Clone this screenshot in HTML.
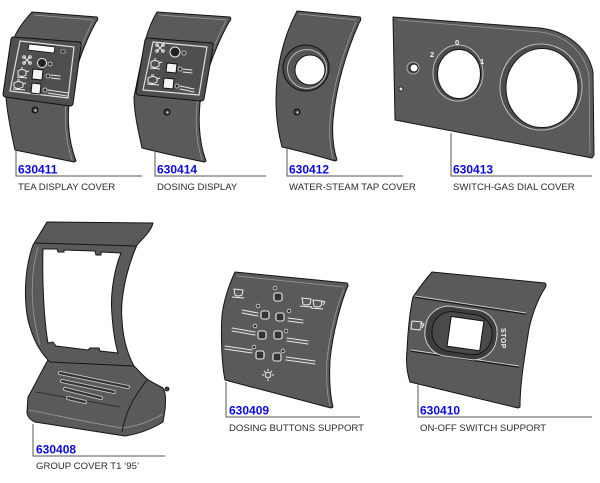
<!DOCTYPE html>
<html><head><meta charset="utf-8"><style>
html,body{margin:0;padding:0;background:#fff;}
svg{display:block;}
.num{font-family:"Liberation Sans",sans-serif;font-weight:bold;font-size:12px;fill:#0a0ae0;}
.dsc{font-family:"Liberation Sans",sans-serif;font-size:9.6px;fill:#2a2a2a;}
.ln{stroke:#555;stroke-width:1;fill:none;}
.body{fill:#5a5a5a;stroke:#151515;stroke-width:1;stroke-linejoin:round;}
.hl{stroke:#9a9a9a;stroke-width:0.8;fill:none;}
.wl{stroke:#e6e6e6;stroke-width:1;fill:none;stroke-linecap:round;}
.hole{fill:#fff;stroke:#151515;stroke-width:1;}
.btn{fill:#333;stroke:#eee;stroke-width:1.1;}
.dot{fill:#2a2a2a;stroke:#ddd;stroke-width:0.8;}
</style></head><body>
<svg width="600" height="483" viewBox="0 0 600 483" xmlns="http://www.w3.org/2000/svg">

<!-- ===== Shape 1: TEA DISPLAY COVER ===== -->
<path class="body" d="M32,12 L97,17 Q99,19 96,22 C86,40 73,72 69,103 C67,125 70,145 76,161 L74,162 C55,158 35,154 15,150 C11,132 7,112 6,97 L14,38 C18,28 25,20 32,12 Z"/>
<path class="hl" d="M34,15 L94,20 M93,21 C83,40 70,72 66,103 C64,125 67,145 72,160"/>
<path d="M13,37 L80,42 Q82,43 81,46 L73,104 Q72,106 70,106 L5,97 Q3,96 3,94 L11,39 Q12,37 13,37 Z" fill="#4f4f4f" stroke="#111" stroke-width="1"/>
<path d="M20,41 L74,47 L68,98 L10,91 Z" fill="none" stroke="#dedede" stroke-width="1.2" stroke-linejoin="round"/>
<polygon points="29,44 55,47 54,53 28,50" fill="#fff" stroke="#111" stroke-width="0.8"/>
<rect x="61" y="50" width="4" height="3" fill="#222" stroke="#ddd" stroke-width="0.6"/>
<g stroke="#eee" stroke-width="1" fill="none">
  <path d="M24,57 l6,6 M30,57 l-6,6"/><circle cx="24" cy="57" r="1.3"/><circle cx="30" cy="57" r="1.3"/><circle cx="24" cy="63" r="1.3"/><circle cx="30" cy="63" r="1.3"/>
  <path d="M18,71 q4,-3 8,0 l0,4 q-4,3 -8,0 z M21,68 l2,0 M26,72 l3,-1 M17,77 l10,1"/>
  <path d="M14,83 q5,-3 9,0 l0,4 q-5,3 -9,0 z M17,80 l3,0 M23,84 l3,-1 M13,89 l12,1"/>
</g>
<circle cx="42" cy="63" r="4.5" fill="#222" stroke="#eee" stroke-width="1"/>
<circle class="dot" cx="50" cy="64" r="2"/>
<polygon points="33,69 43,70 42,80 32,79" fill="#f4f4f4" stroke="#111" stroke-width="1"/>
<circle class="dot" cx="48" cy="76" r="2"/>
<path class="wl" d="M51,75 L60,76 M51,78 L60,79"/>
<polygon points="32,83 41,84 40,94 31,93" fill="#f4f4f4" stroke="#111" stroke-width="1"/>
<circle class="dot" cx="45" cy="90" r="2"/>
<path class="wl" d="M48,90 L68,93 M48,93 L67,96"/>
<circle cx="35" cy="110" r="3" fill="#3a3a3a" stroke="#111"/><circle cx="35.5" cy="110.5" r="1.2" fill="#ccc"/>

<!-- ===== Shape 2: DOSING DISPLAY ===== -->
<path class="body" d="M157,12 L230,17 Q232,19 229,22 C219,40 205,72 200,103 C198,125 200,145 206,161 L204,162 C185,158 162,153 142,148 C138,130 134,112 134,97 L146,38 C149,28 152,20 157,12 Z"/>
<path class="hl" d="M159,15 L227,20 M226,21 C216,40 202,72 197,103 C195,125 197,145 202,160"/>
<path d="M147,38 L212,43 Q214,44 213,47 L204,99 Q203,101 201,101 L138,95 Q136,94 136,92 L145,40 Q146,38 147,38 Z" fill="#4f4f4f" stroke="#111" stroke-width="1"/>
<path d="M153,42 L207,47 L199,95 L143,90 Z" fill="none" stroke="#dedede" stroke-width="1.2" stroke-linejoin="round"/>
<g stroke="#eee" stroke-width="1" fill="none">
  <path d="M157,45 l6,6 M163,45 l-6,6"/><circle cx="157" cy="45" r="1.3"/><circle cx="163" cy="45" r="1.3"/><circle cx="157" cy="51" r="1.3"/><circle cx="163" cy="51" r="1.3"/>
  <path d="M151,62 q4,-3 8,0 l0,4 q-4,3 -8,0 z M154,59 l2,0 M159,63 l3,-1 M150,68 l10,1"/>
  <path d="M148,78 q5,-3 9,0 l0,4 q-5,3 -9,0 z M151,75 l3,0 M157,79 l3,-1 M147,84 l12,1"/>
</g>
<circle cx="175" cy="52" r="5" fill="#222" stroke="#eee" stroke-width="1"/>
<circle class="dot" cx="184" cy="53" r="2"/>
<polygon points="167,63 177,64 176,73 166,72" fill="#f4f4f4" stroke="#111" stroke-width="1"/>
<circle class="dot" cx="180" cy="69" r="2"/>
<path class="wl" d="M183,69 L192,70 M183,72 L192,73"/>
<polygon points="164,78 174,79 173,89 163,88" fill="#f4f4f4" stroke="#111" stroke-width="1"/>
<circle class="dot" cx="177" cy="86" r="2"/>
<path class="wl" d="M180,86 L194,89 M180,89 L194,92"/>
<circle cx="167" cy="112" r="3" fill="#3a3a3a" stroke="#111"/><circle cx="167.5" cy="112.5" r="1.2" fill="#ccc"/>

<!-- ===== Shape 3: WATER-STEAM TAP COVER ===== -->
<path class="body" d="M297,11 L360,17 Q362,19 359,23 C347,50 336,85 333,120 C332,135 333,148 337,160 L335,161 C318,156 300,151 282,147 C278,132 276,118 276,100 C276,62 286,32 297,11 Z"/>
<path class="hl" d="M299,14 L357,20 M356,22 C344,50 333,85 330,120 C329,135 330,148 333,159"/>
<circle cx="306" cy="68" r="23" fill="#4c4c4c" stroke="#111" stroke-width="1"/>
<circle cx="307" cy="69" r="19.5" fill="#555" stroke="#bdbdbd" stroke-width="1"/>
<circle cx="310" cy="70" r="15" class="hole"/>
<circle cx="297" cy="112" r="3" fill="#3a3a3a" stroke="#111"/><circle cx="297.5" cy="112.5" r="1.2" fill="#ccc"/>

<!-- ===== Shape 4: SWITCH-GAS DIAL COVER ===== -->
<path class="body" d="M393,17 L540,28 C566,31 588,47 593,72 L594,155 L592,158 L395,120 L393,17 Z"/>
<path class="hl" d="M398,20 L540,32 C564,35 584,50 589,76 L590,153"/>
<ellipse cx="458" cy="73" rx="25" ry="28" fill="#4c4c4c" stroke="#bdbdbd" stroke-width="1"/>
<ellipse cx="459" cy="74" rx="21.5" ry="24.5" class="hole"/>
<ellipse cx="541" cy="87" rx="41" ry="43" fill="#4c4c4c" stroke="#bdbdbd" stroke-width="1"/>
<ellipse cx="542" cy="88" rx="36" ry="39.5" class="hole"/>
<circle cx="413" cy="68" r="6" fill="#4c4c4c" stroke="#aaa" stroke-width="1"/>
<circle cx="414" cy="68" r="4" class="hole"/>
<circle cx="401" cy="89" r="2" fill="#ddd" stroke="#111" stroke-width="0.8"/>
<g font-family="Liberation Sans, sans-serif" font-weight="bold" font-size="7.5" fill="#f4f4f4">
<text x="430" y="57">2</text><text x="455" y="45">0</text><text x="480" y="64">1</text>
</g>

<!-- ===== Shape 5: GROUP COVER ===== -->
<path class="body" d="M48,360 L134,366 C140,372 145,378 150,381 L163,388 C166,392 166,400 165,410 L163,422 C150,430 138,434 125,436 L35,422 C30,420 27,416 27,412 L28,397 C35,385 42,370 48,360 Z"/>
<path class="hl" d="M29,410 C60,416 95,424 122,428 C140,426 152,420 163,414"/>
<path d="M147,380 C135,395 126,410 122,432" fill="none" stroke="#151515" stroke-width="0.9"/>
<path d="M36,392 L120,407" fill="none" stroke="#222" stroke-width="0.8"/>
<path class="body" d="M47,222 L153,223 C151,232 141,240 137,245 C126,270 120,300 122,320 C123,340 128,355 134,366 L50,362 C40,352 33,340 28,320 C24,300 24,270 33,245 L47,222 Z"/>
<path d="M35,243 L137,246" stroke="#151515" stroke-width="1" fill="none"/>
<path class="hl" d="M38,247 C30,275 30,310 40,345"/>
<path class="hole" d="M43,249 L57,249 L58,252 L64,252 L64,250 L95,251 L96,255 L101,255 L101,252 L121,253 C114,270 110,295 112,315 C113,330 115,343 118,353 L100,351 L99,348 L90,348 L88,350 L56,346 L53,342 L48,343 C44,320 42,280 43,249 Z"/>
<g stroke-linecap="round" fill="none">
  <path d="M60,373 L128,387 M62,381 L114,392 M65,389 L101,398 M68,398 L85,402" stroke="#c4c4c4" stroke-width="4"/>
  <path d="M60,373 L128,387 M62,381 L114,392 M65,389 L101,398 M68,398 L85,402" stroke="#333" stroke-width="2.2"/>
</g>
<circle cx="167" cy="389" r="2" fill="#444" stroke="#111" stroke-width="0.8"/>

<!-- ===== Shape 6: DOSING BUTTONS SUPPORT ===== -->
<path class="body" d="M235,272 L347,283 Q349,285 347,288 C342,300 333,330 330,360 C329,380 330,395 333,407 L331,408 L225,380 C221,360 221,330 222,315 C224,300 229,285 235,272 Z"/>
<path class="hl" d="M237,276 L344,287 M344,289 C339,300 330,330 327,360 C326,380 327,395 330,406"/>
<g stroke="#eee" stroke-width="1" fill="none" stroke-linejoin="round">
  <path d="M234,289 L243,290 L242,295 Q238,297 235,295 Z M232,297 L244,298"/>
  <path d="M302,298 L311,299 L310,304 Q306,306 303,304 Z M300,306 L312,307 M313,300 L322,301 L321,306 Q317,308 314,306 Z M311,308 L323,309 M321,301 L325,302 L323,305"/>
</g>
<g>
  <rect class="btn" x="274" y="293" width="8" height="8" rx="2"/>
  <rect class="btn" x="261" y="311" width="8" height="8" rx="2"/>
  <rect class="btn" x="276" y="313" width="8" height="8" rx="2"/>
  <rect class="btn" x="258" y="331" width="8" height="8" rx="2"/>
  <rect class="btn" x="274" y="331" width="8" height="8" rx="2"/>
  <rect class="btn" x="256" y="351" width="8" height="8" rx="2"/>
  <rect class="btn" x="273" y="353" width="8" height="8" rx="2"/>
  <circle class="dot" cx="275" cy="288" r="1.8"/>
  <circle class="dot" cx="258" cy="306" r="1.8"/>
  <circle class="dot" cx="289" cy="311" r="1.8"/>
  <circle class="dot" cx="255" cy="326" r="1.8"/>
  <circle class="dot" cx="286" cy="331" r="1.8"/>
  <circle class="dot" cx="254" cy="347" r="1.8"/>
  <circle class="dot" cx="283" cy="351" r="1.8"/>
</g>
<path class="wl" d="M242,310 L258,313 M242,313 L258,316 M288,318 L303,320 M288,321 L303,323 M232,328 L255,332 M232,331 L255,335 M287,338 L308,341 M287,341 L308,344 M225,346 L252,350 M225,349 L252,353 M286,357 L315,361 M286,360 L315,364"/>
<g stroke="#eee" stroke-width="1" fill="none">
  <circle cx="268" cy="375" r="2.8"/>
  <path d="M268,369 L268,371 M268,379 L268,381 M262,375 L264,375 M272,375 L274,375 M264,371 L265.5,372.5 M272,371 L270.5,372.5"/>
</g>

<!-- ===== Shape 7: ON-OFF SWITCH SUPPORT ===== -->
<path class="body" d="M432,272 L545,283 Q547,285 545,288 C537,300 530,320 528,335 C524,360 520,385 520,407 L518,408 L410,382 C406,370 406,360 407,350 C408,330 410,310 413,297 C419,288 425,280 432,272 Z"/>
<path d="M415,297 L526,314" stroke="#151515" stroke-width="1.6" fill="none"/>
<path d="M415,296 L526,313" stroke="#d4d4d4" stroke-width="0.9" fill="none"/>
<path d="M411,351 L519,367" stroke="#151515" stroke-width="1.6" fill="none"/>
<path d="M411,350 L519,366" stroke="#d4d4d4" stroke-width="0.9" fill="none"/>
<g transform="rotate(8 461 333)">
  <rect x="425" y="308" width="72" height="50" rx="23" fill="#3d3d3d" stroke="#cfcfcf" stroke-width="1"/>
  <rect x="432" y="313" width="60" height="40" rx="19" fill="#4a4a4a" stroke="#151515" stroke-width="1"/>
  <rect x="449" y="318" width="33" height="30" fill="#fff" stroke="#111" stroke-width="1"/>
</g>
<g stroke="#eee" stroke-width="1" fill="none" stroke-linejoin="round">
  <path d="M412,321 L422,322 L420,330 L411,329 Z M420,324 L424,324 L422,328"/>
</g>
<text x="501" y="328" transform="rotate(90 501 328)" font-family="Liberation Sans, sans-serif" font-weight="bold" font-size="7" fill="#f0f0f0" letter-spacing="0.5">STOP</text>

<!-- ===== Labels ===== -->
<path class="ln" d="M16,148 L16,176 L142,176"/>
<text class="num" x="18" y="173.5">630411</text>
<text class="dsc" x="18" y="190">TEA DISPLAY COVER</text>

<path class="ln" d="M155,150 L155,176 L266,176"/>
<text class="num" x="157" y="173.5">630414</text>
<text class="dsc" x="157" y="190">DOSING DISPLAY</text>

<path class="ln" d="M287,148 L287,176 L403,176"/>
<text class="num" x="289" y="173.5">630412</text>
<text class="dsc" x="289" y="190">WATER-STEAM TAP COVER</text>

<path class="ln" d="M451,133 L451,176 L592,176"/>
<text class="num" x="453" y="173.5">630413</text>
<text class="dsc" x="453" y="190">SWITCH-GAS DIAL COVER</text>

<path class="ln" d="M33,424 L33,456 L165,456"/>
<text class="num" x="36" y="453.5">630408</text>
<text class="dsc" x="36" y="469">GROUP COVER T1 ‘95’</text>

<path class="ln" d="M226,382 L226,417 L360,417"/>
<text class="num" x="229" y="414.5">630409</text>
<text class="dsc" x="229" y="431">DOSING BUTTONS SUPPORT</text>

<path class="ln" d="M418,382 L418,417 L592,417"/>
<text class="num" x="420" y="414.5">630410</text>
<text class="dsc" x="420" y="431">ON-OFF SWITCH SUPPORT</text>

</svg>
</body></html>
